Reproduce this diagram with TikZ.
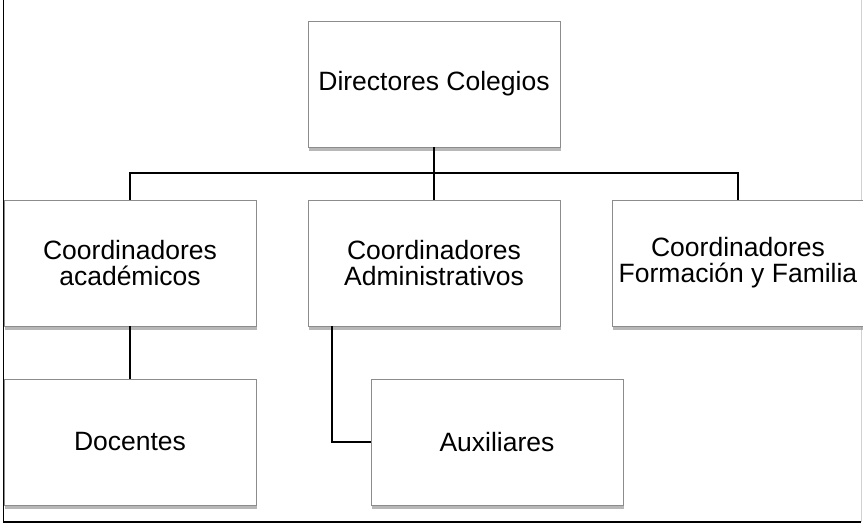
\documentclass[tikz,border=0pt]{standalone}
\usepackage{fontspec}
\setmainfont{Liberation Sans}
\usetikzlibrary{shadows}
\begin{document}
\begin{tikzpicture}[x=1pt,y=-1pt,
  box/.style={draw=black!45, line width=0.8pt, fill=white, minimum width=252pt, minimum height=126pt,
    align=center, inner sep=0pt, font=\fontsize{26.5}{26}\selectfont,
    drop shadow={shadow xshift=0.5pt, shadow yshift=-4pt, opacity=0.7, fill=black!40}},
  conn/.style={draw=black, line width=1.6pt},
  frame/.style={line width=1.6pt}]
\useasboundingbox (0,0) rectangle (863,529);
\draw[frame, black] (3.5,0) -- (3.5,522) -- (861,522);
\draw[frame, black!18] (861.5,0) -- (861.5,522);
\node[box] (dir) at (434,84) {\raisebox{-3pt}{Directores Colegios}};
\node[box] (acad) at (130,263) {Coordinadores\\académicos};
\node[box] (admin) at (434,263) {Coordinadores\\Administrativos};
\node[box] (fam) at (738,263) {Coordinadores\\Formación y Familia};
\node[box] (doc) at (130,442) {Docentes};
\node[box] (aux) at (497,442) {Auxiliares};
\coordinate (bus) at (434,173);
\draw[conn] (dir.south) -- (bus);
\draw[conn] (acad.north) |- (bus) -| (fam.north);
\draw[conn] (bus) -- (admin.north);
\draw[conn] (acad.south) -- (doc.north);
\draw[conn] ([xshift=-102pt]admin.south) |- (aux.west);
\end{tikzpicture}
\end{document}
